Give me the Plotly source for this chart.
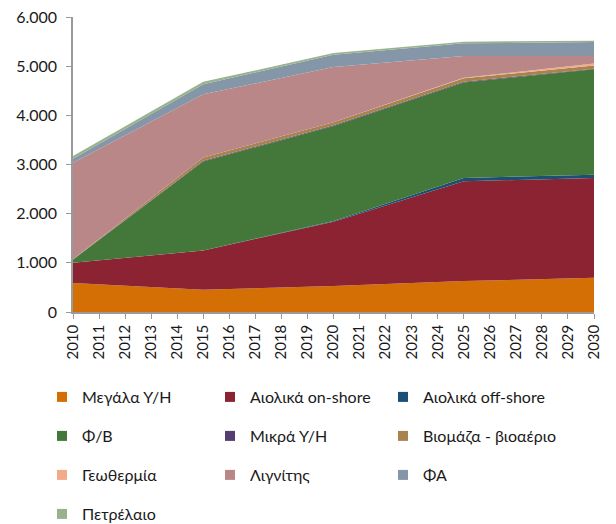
import plotly.graph_objects as go

years = [2010, 2015, 2020, 2025, 2030]
names = ["Μεγάλα Υ/Η", "Αιολικά on-shore", "Αιολικά off-shore", "Φ/Β", "Μικρά Υ/Η",
         "Βιομάζα - βιοαέριο", "Γεωθερμία", "Λιγνίτης", "ΦΑ", "Πετρέλαιο"]
large_hydro = [590, 455, 527, 629, 696]
wind_onshore = [410, 795, 1310, 2030, 2030]
wind_offshore = [0, 0, 15, 68, 68]
pv = [65, 1813, 1930, 1940, 2141]
small_hydro = [5, 15, 15, 15, 15]
biomass = [5, 66, 60, 72, 66]
geothermal = [0, 0, 0, 10, 40]
lignite = [1960, 1284, 1125, 445, 150]
natural_gas = [80, 203, 250, 256, 283]
oil = [60, 50, 34, 34, 27]
series = [large_hydro, wind_onshore, wind_offshore, pv, small_hydro,
          biomass, geothermal, lignite, natural_gas, oil]
colors = ["#D46F06", "#8B2332", "#1B4F73", "#44773A", "#553E70",
          "#A8834E", "#F4A98A", "#BA8789", "#8496A8", "#98B38C"]

FONT = "Lato"
OFF = 8  # page has an 8px body margin: figure coords = page coords - 8
PLOT_L, PLOT_R, PLOT_T, PLOT_B = 73, 594, 17, 312  # page pixels
W, H = 616, 524

fig = go.Figure()
for name, vals, col in zip(names, series, colors):
    fig.add_trace(go.Scatter(x=years, y=vals, name=name, mode="lines",
                             stackgroup="one", line=dict(width=0, color=col),
                             fillcolor=col, showlegend=False, hoverinfo="skip"))

# legend grid: 3 columns, 4 rows (page pixels of text start / row centre)
col_text_x = [82, 250, 423]
row_y = [397, 436, 475, 514]
legends = {}
for i, (name, col) in enumerate(zip(names, colors)):
    r, c = divmod(i, 3)
    key = "legend" if i == 0 else f"legend{i + 1}"
    fig.add_trace(go.Scatter(x=[None], y=[None], name=name, mode="markers",
                             marker=dict(symbol="square", size=10, color=col),
                             legend=key, showlegend=True))
    xp = (col_text_x[c] - 40 - PLOT_L) / (PLOT_R - PLOT_L)
    yp = (PLOT_B - row_y[r]) / (PLOT_B - PLOT_T)
    legends[key] = dict(orientation="h", xanchor="left", yanchor="middle",
                        x=xp, y=yp, itemwidth=30, bgcolor="rgba(0,0,0,0)",
                        font=dict(family=FONT, size=16, color="#1a1a1a"))

fig.update_layout(
    width=W, height=H,
    margin=dict(l=PLOT_L - OFF, r=W - PLOT_R + OFF, t=PLOT_T - OFF,
                b=H - PLOT_B + OFF, autoexpand=False),
    paper_bgcolor="white", plot_bgcolor="white",
    separators=",.",
    font=dict(family=FONT, size=16, color="#1a1a1a"),
    xaxis=dict(range=[2010, 2030], dtick=1, tick0=2010, tickangle=-90,
               showgrid=False, zeroline=False, showline=True, linecolor="#9a9a9a",
               linewidth=1.5, ticks="outside", ticklen=5, tickcolor="#9a9a9a",
               ticklabeloverflow="allow",
               tickfont=dict(family=FONT, size=15)),
    yaxis=dict(range=[0, 6000], dtick=1000, tickformat=",.0f",
               showgrid=False, zeroline=False, showline=True, linecolor="#9a9a9a",
               linewidth=1.5, ticks="outside", ticklen=5, tickcolor="#9a9a9a",
               ticklabelstandoff=6, ticklabeloverflow="allow",
               tickfont=dict(family=FONT, size=16)),
    **legends,
)
fig.write_html("out.html")
